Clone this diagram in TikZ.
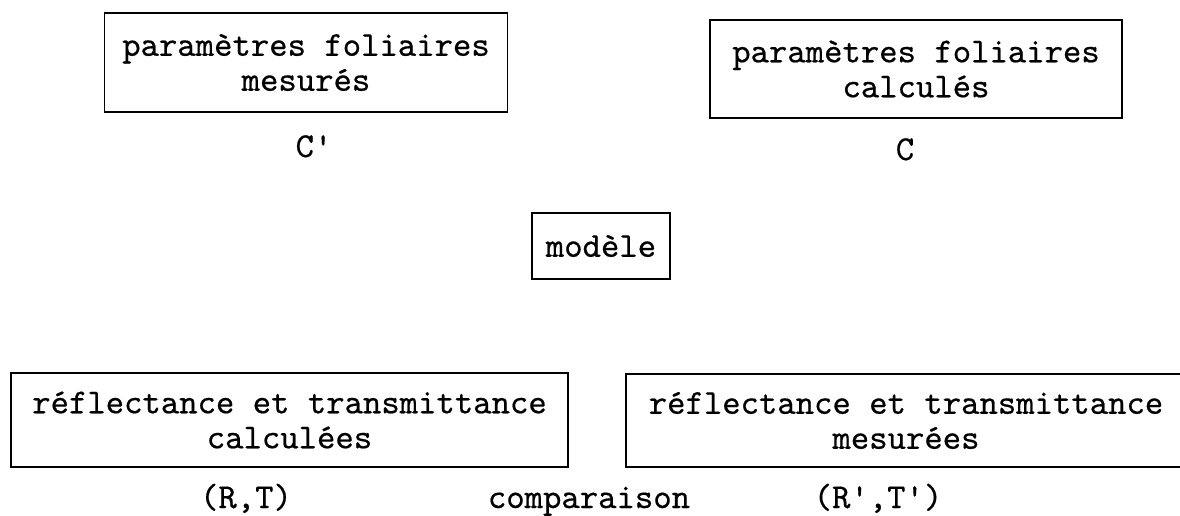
\documentclass[tikz,border=0pt]{standalone}
\usepackage{fontspec}
\setmonofont{lmmono10-regular.otf}[FakeBold=0.5]
\begin{document}
\begin{tikzpicture}[x=1pt,y=-1pt,
  every node/.style={font=\ttfamily\fontsize{35}{35}\selectfont, inner sep=0pt},
  box/.style={draw, line width=1.6pt, align=center},
  lbl/.style={anchor=base}]
\useasboundingbox (0,0) rectangle (1180,516);
\node[box, minimum width=403pt, minimum height=99pt] (pm) at (306,62.5) {paramètres foliaires\\mesurés};
\node[box, minimum width=412pt, minimum height=98pt] (pc) at (916,69) {paramètres foliaires\\calculés};
\node[box, minimum width=138pt, minimum height=66pt] (mod) at (601,246) {modèle};
\node[box, minimum width=557pt, minimum height=94pt] (rc) at (289.5,420) {réflectance et transmittance\\calculées};
\node[box, minimum width=560pt, minimum height=93pt] (rm) at (906,420.5) {réflectance et transmittance\\mesurées};
\node[lbl] (cp) at (314,157) {C'};
\node[lbl] (c) at (905,160) {C};
\node[lbl] (rt) at (246,508) {(R,T)};
\node[lbl] (cmp) at (589,508) {comparaison};
\node[lbl] (rtp) at (878,508) {(R',T')};
\end{tikzpicture}
\end{document}
